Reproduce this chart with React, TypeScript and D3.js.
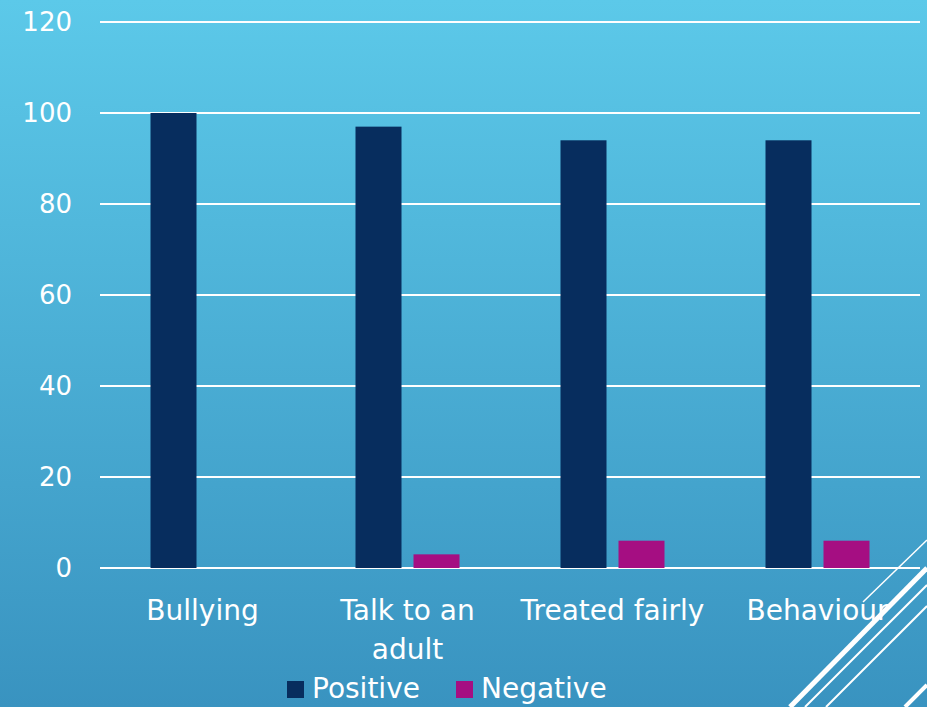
import React from "react";
import * as d3 from "d3";

const categories = ["Bullying", "Talk to an adult", "Treated fairly", "Behaviour"];
const positive = [100, 97, 94, 94];
const negative = [0, 3, 6, 6];
const yTicks = [0, 20, 40, 60, 80, 100, 120];
const seriesNames = ["Positive", "Negative"];

const W = 927, H = 707;
const FONT = "'DejaVu Sans', sans-serif";

export default function App() {
  const x = d3.scaleBand<string>().domain(categories).range([100, 920]);
  const y = d3.scaleLinear().domain([0, 120]).range([568, 22]);
  const groupW = 104;
  const inner = d3.scaleBand<string>().domain(seriesNames).range([0, groupW]).paddingInner(12 / 58);
  const colors = ["#072d5e", "#a50e82"];
  const barOffset = (x.bandwidth() - groupW) / 2;

  const labelLines = (c: string) => (c === "Talk to an adult" ? ["Talk to an", "adult"] : [c]);

  const deco = [
    { x1: 927, y1: 540, x2: 863, y2: 602, w: 1.5 },
    { x1: 927, y1: 568, x2: 790, y2: 707, w: 5 },
    { x1: 927, y1: 585, x2: 805, y2: 707, w: 2 },
    { x1: 927, y1: 606, x2: 826, y2: 707, w: 2 },
    { x1: 927, y1: 685, x2: 905, y2: 707, w: 4 },
  ];

  return (
    <svg width={W} height={H} style={{ position: "absolute", left: 0, top: 0 }}>
      <defs>
        <linearGradient id="bg" x1="0" y1="0" x2="0" y2="1">
          <stop offset="0" stopColor="#5cc9e9" />
          <stop offset="1" stopColor="#3993c0" />
        </linearGradient>
      </defs>
      <rect x={0} y={0} width={W} height={H} fill="url(#bg)" />
      {yTicks.map((t) => (
        <g key={t}>
          <line x1={100} x2={920} y1={y(t)} y2={y(t)} stroke="#ffffff" strokeWidth={2} />
          <text x={72} y={y(t)} dy="0.36em" textAnchor="end" fill="#fff" fontSize={26} fontFamily={FONT}>
            {t}
          </text>
        </g>
      ))}
      {categories.map((c, i) => {
        const x0 = (x(c) as number) + barOffset;
        const vals = [positive[i], negative[i]];
        return (
          <g key={c}>
            {vals.map((v, j) =>
              v > 0 ? (
                <rect
                  key={j}
                  x={x0 + (inner(seriesNames[j]) as number)}
                  y={y(v)}
                  width={inner.bandwidth()}
                  height={y(0) - y(v)}
                  fill={colors[j]}
                />
              ) : null
            )}
            {labelLines(c).map((ln, k) => (
              <text
                key={k}
                x={(x(c) as number) + x.bandwidth() / 2}
                y={620 + k * 39}
                textAnchor="middle"
                fill="#fff"
                fontSize={28}
                fontFamily={FONT}
              >
                {ln}
              </text>
            ))}
          </g>
        );
      })}
      {seriesNames.map((s, j) => {
        const lx = j === 0 ? 287 : 456;
        return (
          <g key={s}>
            <rect x={lx} y={681} width={17} height={17} fill={colors[j]} />
            <text x={lx + 25} y={698} fill="#fff" fontSize={28} fontFamily={FONT}>
              {s}
            </text>
          </g>
        );
      })}
      {deco.map((d, i) => (
        <line key={i} x1={d.x1} y1={d.y1} x2={d.x2} y2={d.y2} stroke="#fff" strokeWidth={d.w} />
      ))}
    </svg>
  );
}
